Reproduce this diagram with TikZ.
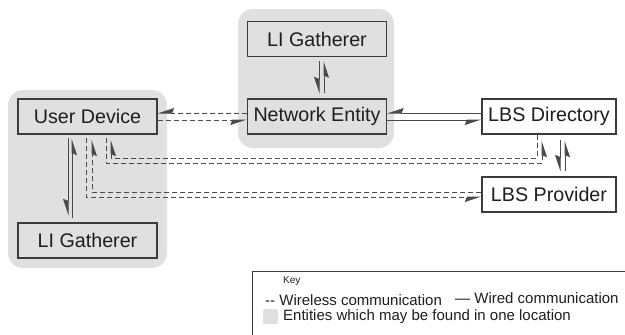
\documentclass[tikz,border=0pt]{standalone}
\usepackage{fontspec}
\setmainfont{Liberation Sans}
\usetikzlibrary{arrows.meta}
\definecolor{grp}{HTML}{E0E0E0}
\definecolor{edge}{HTML}{3C3C3C}
\definecolor{ink}{HTML}{1E1E1E}
\definecolor{wire}{HTML}{4A4A4A}

\begin{document}
\begin{tikzpicture}[x=1pt,y=-1pt,
  entity/.style={draw=edge, line width=1.3pt, minimum width=139pt,
    minimum height=35pt, inner sep=0pt, text=ink,
    font=\fontsize{19.7}{22}\selectfont},
  grouped/.style={entity, fill=grp},
  plain/.style={entity, fill=white},
  harp/.style={-{Stealth[harpoon,swap,length=15pt,width=10pt,inset=2pt]}},
  wired/.style={draw=wire, line width=1pt, harp},
  wireless/.style={wired, dash pattern=on 5pt off 3pt},
  region/.style={fill=grp, rounded corners=15pt},
  keytext/.style={anchor=west, inner sep=0pt, text=ink,
    font=\fontsize{15}{18}\selectfont},
]
\useasboundingbox (0,0) rectangle (625,335);

% co-located groups
\fill[region] (8,90) rectangle (167,268);
\fill[region] (238,9) rectangle (394,148);

% entities
\node[grouped] (ud)   at (87.5,116.5) {User Device};
\node[grouped] (lib)  at (87.5,240.5) {LI Gatherer};
\node[grouped] (lit)  at (317,39)     {LI Gatherer};
\node[grouped] (ne)   at (317,116.5)  {Network Entity};
\node[plain, minimum width=134pt] (dir)  at (549,116.5) {LBS Directory};
\node[plain, minimum width=134pt] (prov) at (549,194.5) {LBS Provider};

% wired links
\draw[wired] ([yshift=3.5pt]dir.west) -- ([yshift=3.5pt]ne.east);
\draw[wired] ([yshift=-3.5pt]ne.east) -- ([yshift=-3.5pt]dir.west);
\draw[wired, shorten <=4pt, shorten >=5pt] ([xshift=2pt]lit.south) -- ([xshift=2pt]ne.north);
\draw[wired, shorten <=5pt, shorten >=4pt] ([xshift=7pt]ne.north) -- ([xshift=7pt]lit.south);
\draw[wired, shorten <=3pt, shorten >=7pt] ([xshift=-19.5pt]ud.south) -- ([xshift=-19.5pt]lib.north);
\draw[wired, shorten <=4pt, shorten >=4pt] ([xshift=-15.5pt]lib.north) -- ([xshift=-15.5pt]ud.south);
\draw[wired, shorten <=5pt, shorten >=5pt] ([xshift=11pt]dir.south) -- ([xshift=11pt]prov.north);
\draw[wired, shorten <=5pt, shorten >=6pt] ([xshift=16pt]prov.north) -- ([xshift=16pt]dir.south);

% wireless links
\draw[wireless] ([yshift=3.5pt]ne.west) -- ([yshift=3.5pt]ud.east);
\draw[wireless] ([yshift=-3.5pt]ud.east) -- ([yshift=-3.5pt]ne.west);

\coordinate (da1) at (537,158);
\coordinate (da2) at (111,158);
\coordinate (db1) at (106,163);
\coordinate (db2) at (542,163);
\draw[wireless, shorten >=5pt] ([xshift=-12pt]dir.south) -- (da1) -- (da2) -- ([xshift=23.5pt]ud.south);
\draw[wireless, shorten <=3pt, shorten >=6pt] ([xshift=18.5pt]ud.south) -- (db1) -- (db2) -- ([xshift=-7pt]dir.south);

\coordinate (pc1) at (92,192);
\coordinate (pd1) at (86,197);
\draw[wireless, shorten >=5pt] ([yshift=2.5pt]prov.west) -- (pc1) -- ([xshift=4.5pt]ud.south);
\draw[wireless, shorten <=3pt] ([xshift=-1.5pt]ud.south) -- (pd1) -- ([yshift=-2.5pt]prov.west);

% key
\draw[draw=edge, line width=1pt] (252,345) |- (640,271);
\node[keytext, font=\fontsize{10}{12}\selectfont] (keyhead) at (283,281) {Key};
\node[keytext] (kwl) at (265,300) {-{}- Wireless communication};
\node[keytext] (kwd) at (455,298) {— Wired communication};
\fill[grp, rounded corners=2pt] (263,309) rectangle (278,324);
\node[keytext] (kgrp) at (283,317) {Entities which may be found in one location};
\end{tikzpicture}
\end{document}
